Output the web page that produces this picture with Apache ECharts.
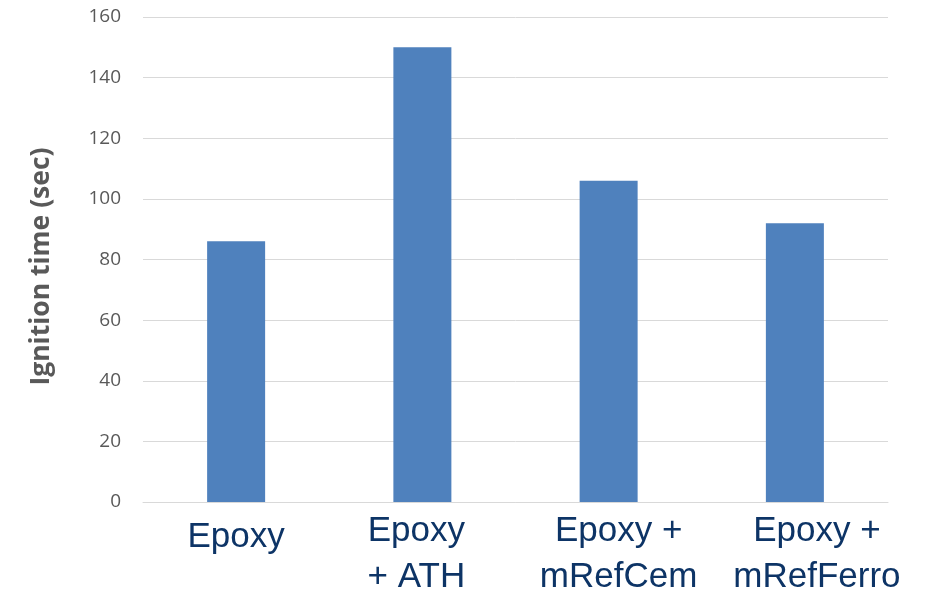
<!DOCTYPE html>
<html><head><meta charset="utf-8">
<script src="https://cdn.jsdelivr.net/npm/echarts@6/dist/echarts.min.js"></script>
<style>html,body{margin:0;padding:0;background:#fff}#c{width:928px;height:591px}</style>
</head><body><div id="c"></div>
<script>
const categories = ['Epoxy', 'Epoxy\n+ ATH', 'Epoxy +\nmRefCem', 'Epoxy +\nmRefFerro'];
const ignitionTime = [86, 150, 106, 92];
const yTicks = [0, 20, 40, 60, 80, 100, 120, 140, 160];

const labelPads = [[6, 0, 0, 0], [0, 12, 0, 0], [0, 0, 0, 20], [0, 0, 0, 44]];

const chart = echarts.init(document.getElementById('c'));
chart.setOption({
  animation: false,
  grid: { left: 143, right: 40, top: 17, bottom: 89, containLabel: false, outerBoundsMode: 'none' },
  xAxis: {
    type: 'category',
    data: categories.map((c, i) => ({ value: c, textStyle: { padding: labelPads[i] } })),
    axisLine: { show: true, lineStyle: { color: '#d9d9d9', width: 1 } },
    axisTick: { show: false },
    axisLabel: { color: '#0d3466', fontFamily: 'Liberation Sans', fontSize: 35, lineHeight: 46, margin: 6, interval: 0 }
  },
  yAxis: {
    type: 'value', min: yTicks[0], max: yTicks[yTicks.length - 1], interval: 20,
    name: 'Ignition time (sec)', nameLocation: 'middle', nameGap: 88,
    nameTextStyle: { color: '#595959', fontFamily: 'Open Sans', fontWeight: 'bold', fontSize: 26.5, padding: [0, 14, 0, 0] },
    axisLine: { show: false }, axisTick: { show: false },
    axisLabel: { color: '#595959', fontFamily: 'Open Sans', fontSize: 19, margin: 22 },
    splitLine: { lineStyle: { color: '#d9d9d9', width: 1 } }
  },
  series: [{
    type: 'bar', data: ignitionTime, barWidth: 58,
    itemStyle: { color: '#4f81bd' }
  }]
});
</script></body></html>
